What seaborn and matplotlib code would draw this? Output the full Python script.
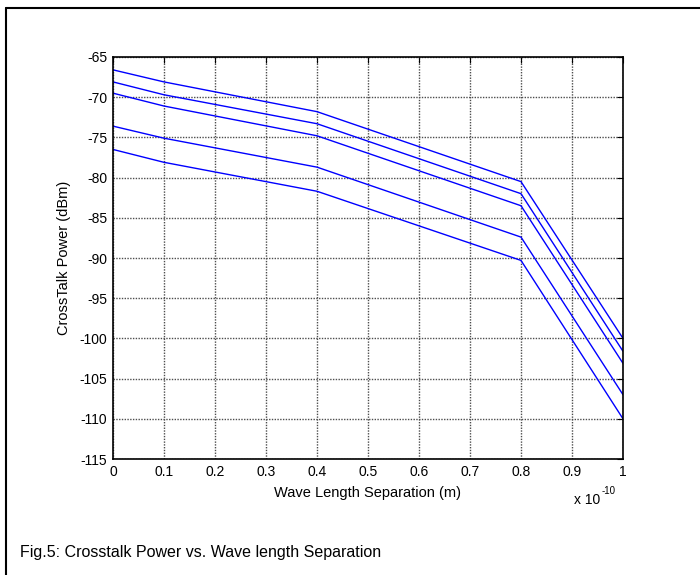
import numpy as np
import pandas as pd
import matplotlib
matplotlib.use("Agg")
import matplotlib.pyplot as plt
import seaborn as sns

# wavelength separation in units of 1e-10 m
separation = [0.0, 0.1, 0.4, 0.8, 1.0]

curve_1 = [-66.6, -68.1, -71.8, -80.5, -100.0]
curve_2 = [-68.1, -69.7, -73.3, -82.0, -101.6]
curve_3 = [-69.5, -71.1, -74.8, -83.5, -103.1]
curve_4 = [-73.6, -75.1, -78.7, -87.4, -107.0]
curve_5 = [-76.5, -78.1, -81.7, -90.3, -110.0]

x_ticks = [0, 0.1, 0.2, 0.3, 0.4, 0.5, 0.6, 0.7, 0.8, 0.9, 1]
y_ticks = [-115, -110, -105, -100, -95, -90, -85, -80, -75, -70, -65]

curves = [curve_1, curve_2, curve_3, curve_4, curve_5]
df = pd.DataFrame({
    "sep": np.tile(separation, len(curves)),
    "power": np.concatenate(curves),
    "curve": np.repeat(np.arange(len(curves)), len(separation)),
})

sns.set_style("white")
plt.rcParams['font.family'] = ['Liberation Sans', 'DejaVu Sans']
plt.rcParams['text.color'] = 'black'

fig = plt.figure(figsize=(7, 5.75), dpi=100)
ax = fig.add_axes([0.1614, 0.2017, 0.7286, 0.6992])

sns.lineplot(data=df, x="sep", y="power", units="curve", estimator=None,
             color="#0000ff", linewidth=1.0, ax=ax)

ax.set_xlim(0, 1)
ax.set_ylim(-115, -65)
ax.set_xticks(x_ticks)
ax.set_xticklabels([f"{t:g}" for t in x_ticks])
ax.set_yticks(y_ticks)
ax.set_yticklabels([f"{t:g}" for t in y_ticks])
ax.grid(True, color="0.3", linestyle=(0, (1, 1)), linewidth=1.0)
ax.tick_params(direction="in", length=4, width=0.8, labelsize=10,
               top=True, right=True, colors="black", labelcolor="black", pad=4)
for s in ax.spines.values():
    s.set_color("black")
    s.set_linewidth(1.2)

ax.set_xlabel("Wave Length Separation (m)", fontsize=10.5, labelpad=5,
              color="black")
ax.set_ylabel("CrossTalk Power (dBm)", fontsize=10.5, labelpad=6,
              color="black")

# exponent note under the right end of the x axis
fig.text(0.858, 0.131, "x 10", fontsize=10, ha="right", va="center")
fig.text(0.860, 0.146, "-10", fontsize=7, ha="left", va="center")

fig.text(0.029, 0.04, "Fig.5: Crosstalk Power vs. Wave length Separation",
         fontsize=11.5, ha="left", va="center")

# page border (top and left edges only visible)
fig.add_artist(plt.Line2D([0.0086, 1.0], [0.986, 0.986], color="black",
                          linewidth=1.5, transform=fig.transFigure))
fig.add_artist(plt.Line2D([0.0086, 0.0086], [0.0, 0.986], color="black",
                          linewidth=1.5, transform=fig.transFigure))

fig.savefig("out.png", dpi=100)
